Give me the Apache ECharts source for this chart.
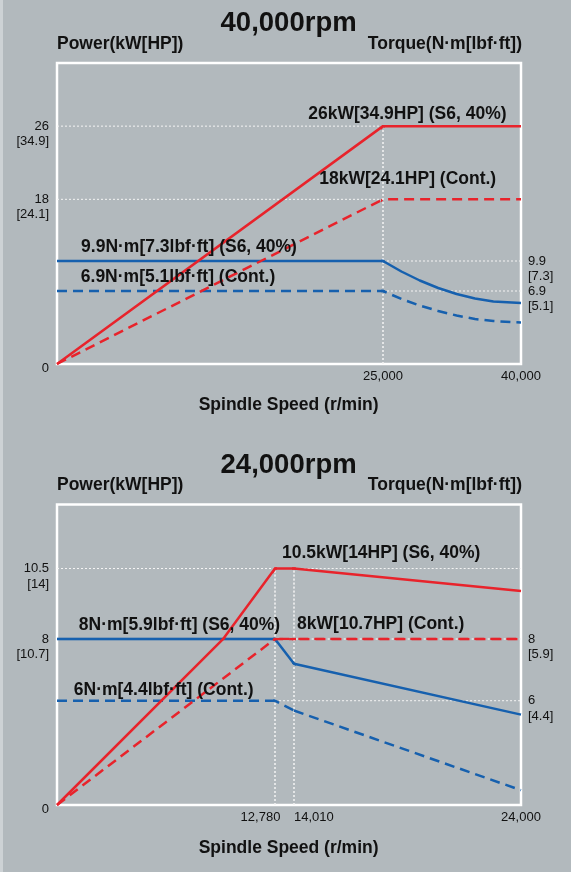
<!DOCTYPE html>
<html><head><meta charset="utf-8">
<script src="https://cdn.jsdelivr.net/npm/echarts@6/dist/echarts.min.js"></script>
<style>html,body{margin:0;padding:0;background:#b2b9bd;}#c{width:571px;height:872px;}</style>
</head><body><div id="c"></div>
<script>
// ---------------- DATA: 40,000 rpm spindle ----------------
const rpmPower40 = [0, 25000, 40000];
const s6Power40 = [0, 26, 26];
const contPower40 = [0, 18, 18];
const rpmTorque40 = [0, 25000, 27000, 29000, 31000, 33000, 35000, 37000, 40000];
const s6Torque40 = [9.9, 9.9, 8.85, 7.95, 7.2, 6.6, 6.15, 5.85, 5.7];
const contTorque40 = [6.9, 6.9, 6.1, 5.45, 4.9, 4.45, 4.1, 3.9, 3.75];
const powerTicks40 = [0, 18, 26];
const powerTicksHP40 = [null, '24.1', '34.9'];
const torqueTicks40 = [6.9, 9.9];
const torqueTicksLbf40 = ['5.1', '7.3'];
const speedTicks40 = [25000, 40000];
const refPower40 = [[26, 0, 25000], [18, 0, 25000]];      // [kW, fromRpm, toRpm]
const refTorque40 = [[9.9, 25000, 40000], [6.9, 25000, 40000]];
const refSpeed40 = [[25000, 0, 26]];                       // [rpm, fromKW, toKW]

// ---------------- DATA: 24,000 rpm spindle ----------------
const rpmS6Power24 = [0, 12780, 14010, 24000];
const s6Power24 = [0, 10.5, 10.5, 9.7];
const rpmContPower24 = [0, 12780, 24000];
const contPower24 = [0, 8, 8];
const rpmS6Torque24 = [0, 12780, 14010, 24000];
const s6Torque24 = [8, 8, 7.2, 5.55];
const rpmContTorque24 = [0, 12780, 24000];
const contTorque24 = [6, 6, 3.1];
const powerTicks24 = [0, 8, 10.5];
const powerTicksHP24 = [null, '10.7', '14'];
const torqueTicks24 = [6, 8];
const torqueTicksLbf24 = ['4.4', '5.9'];
const speedTicks24 = [12780, 14010, 24000];
const refPower24 = [[10.5, 0, 24000], [8, 0, 24000]];
const refTorque24 = [[6, 12780, 24000]];
const refSpeed24 = [[12780, 0, 10.5], [14010, 0, 10.5]];

// ---------------- STYLE ----------------
const FONT = '"Liberation Sans", Arial, Helvetica, sans-serif';
const RED = '#e8232b', BLUE = '#1660ae', DOT = '#f4f4f4', TXT = '#111111', BG = '#b2b9bd';
const DASH = [10, 6];

const grids = [], xAxes = [], yAxes = [], series = [];
const pairs = (xs, ys) => xs.map((x, i) => [x, ys[i]]);
const hidden = { axisLine: { show: false }, axisTick: { show: false }, splitLine: { show: false } };
const richBase = { fontSize: 13, fontFamily: FONT, color: TXT };

function tickFmt(ticks, sub) {
  return v => {
    const i = ticks.findIndex(t => Math.abs(t - v) < 1e-6);
    const s = i >= 0 ? sub[i] : null;
    return s ? ' \n' + v + '\n[' + s + ']' : '{z|' + v + '}';
  };
}

function build(cfg) {
  const nR = cfg.rows.length, nC = cfg.cols.length;
  const pLab = cfg.rows.map(() => []), tLab = cfg.rows.map(() => []);
  const usedP = new Set(), usedT = new Set(), usedX = new Set();
  for (let r = nR - 1; r >= 0; r--) {
    const row = cfg.rows[r];
    cfg.pTicks.forEach((v, i) => { if (!usedP.has(i) && v >= row.pmin - 1e-9 && v <= row.pmax + 1e-9) { usedP.add(i); pLab[r].push(v); } });
    cfg.tTicks.forEach((v, i) => { if (!usedT.has(i) && v >= row.tmin - 1e-9 && v <= row.tmax + 1e-9) { usedT.add(i); tLab[r].push(v); } });
  }
  const xLab = cfg.cols.map(() => []);
  cfg.cols.forEach((col, c) => cfg.xTicks.forEach((v, i) => { if (!usedX.has(i) && v > col.min && v <= col.max) { usedX.add(i); xLab[c].push(v); } }));
  const lab = Object.assign({ show: true, interval: 0, hideOverlap: false, showMinLabel: true, showMaxLabel: true }, richBase);
  cfg.rows.forEach((row, r) => cfg.cols.forEach((col, c) => {
    const g = grids.length;
    grids.push({ left: col.x0, top: row.y0, width: col.x1 - col.x0, height: row.y1 - row.y0, containLabel: false, outerBoundsMode: 'none', show: false });
    const xi = xAxes.length;
    const padR = col.labelPadRight || 0;
    xAxes.push(Object.assign({ type: 'value', gridIndex: g, min: col.min, max: col.max }, hidden, {
      axisLabel: (r === nR - 1 && xLab[c].length) ? Object.assign({}, lab, {
        customValues: xLab[c], align: col.align, margin: 6,
        formatter: v => '{s|' + Number(v).toLocaleString('en-US') + '}',
        rich: { s: Object.assign({ padding: [0, padR, 0, 0] }, richBase) }
      }) : { show: false }
    }));
    // value axes used by the series (no labels)
    const pi = yAxes.length;
    yAxes.push(Object.assign({ type: 'value', gridIndex: g, position: 'left', min: row.pmin, max: row.pmax, axisLabel: { show: false } }, hidden));
    const ti = yAxes.length;
    yAxes.push(Object.assign({ type: 'value', gridIndex: g, position: 'right', min: row.tmin, max: row.tmax, axisLabel: { show: false } }, hidden));
    // one label-only twin axis per tick label (same scale), so labels never compete
    if (c === 0) pLab[r].forEach(v => yAxes.push(Object.assign({ type: 'value', gridIndex: g, position: 'left', min: row.pmin, max: row.pmax }, hidden, {
      axisLabel: Object.assign({}, lab, { customValues: [v], align: 'right', margin: 8, lineHeight: 15.5, formatter: tickFmt(cfg.pTicks, cfg.pSub),
        rich: { z: Object.assign({ padding: [8, 0, 0, 0] }, richBase) } })
    })));
    if (c === nC - 1) tLab[r].forEach(v => yAxes.push(Object.assign({ type: 'value', gridIndex: g, position: 'right', min: row.tmin, max: row.tmax }, hidden, {
      axisLabel: Object.assign({}, lab, { customValues: [v], align: 'left', margin: 7, lineHeight: 15.5, formatter: tickFmt(cfg.tTicks, cfg.tSub),
        rich: { z: Object.assign({ padding: [8, 0, 0, 0] }, richBase) } })
    })));
    cfg.lines.forEach(L => series.push({
      type: 'line', xAxisIndex: xi, yAxisIndex: L.axis === 'power' ? pi : ti, data: L.data,
      clip: true, symbol: 'none', silent: true, animation: false, z: L.z,
      lineStyle: { color: L.color, width: L.width, type: L.dash || 'solid', cap: 'butt' }
    }));
  }));
}

function refLines(hP, hT, vS) {
  const st = { color: DOT, width: 1, dash: [2, 2], z: 2 };
  return [
    ...hP.map(([v, a, b]) => Object.assign({ axis: 'power', data: [[a, v], [b, v]] }, st)),
    ...hT.map(([v, a, b]) => Object.assign({ axis: 'torque', data: [[a, v], [b, v]] }, st)),
    ...vS.map(([x, a, b]) => Object.assign({ axis: 'power', data: [[x, a], [x, b]] }, st))
  ];
}

// Chart 1 (40,000 rpm): speed axis drawn piecewise, as in the reference drawing
build({
  cols: [
    { x0: 57, x1: 383, min: 0, max: 25000, align: 'center' },
    { x0: 383, x1: 521, min: 25000, max: 40000, align: 'center' }
  ],
  rows: [
    { y0: 63, y1: 364, pmin: 0, pmax: 32.9, tmin: -0.4, tmax: 29.7 }
  ],
  pTicks: powerTicks40, pSub: powerTicksHP40, tTicks: torqueTicks40, tSub: torqueTicksLbf40, xTicks: speedTicks40,
  lines: [
    ...refLines(refPower40, refTorque40, refSpeed40),
    { axis: 'torque', data: pairs(rpmTorque40, contTorque40), color: BLUE, width: 2.5, dash: DASH, z: 3 },
    { axis: 'torque', data: pairs(rpmTorque40, s6Torque40), color: BLUE, width: 2.5, z: 3 },
    { axis: 'power', data: pairs(rpmPower40, contPower40), color: RED, width: 2.5, dash: DASH, z: 4 },
    { axis: 'power', data: pairs(rpmPower40, s6Power40), color: RED, width: 2.5, z: 4 }
  ]
});

// Chart 2 (24,000 rpm)
build({
  cols: [
    { x0: 57, x1: 275, min: 0, max: 12780, align: 'center', labelPadRight: 29 },
    { x0: 275, x1: 294, min: 12780, max: 14010, align: 'left' },
    { x0: 294, x1: 521, min: 14010, max: 24000, align: 'center' }
  ],
  rows: [
    { y0: 504.5, y1: 639, pmin: 8, pmax: 12.77, tmin: 8, tmax: 12.36 },
    { y0: 639, y1: 805, pmin: 0, pmax: 8, tmin: 2.62, tmax: 8 }
  ],
  pTicks: powerTicks24, pSub: powerTicksHP24, tTicks: torqueTicks24, tSub: torqueTicksLbf24, xTicks: speedTicks24,
  lines: [
    ...refLines(refPower24, refTorque24, refSpeed24),
    { axis: 'torque', data: pairs(rpmContTorque24, contTorque24), color: BLUE, width: 2.5, dash: DASH, z: 3 },
    { axis: 'torque', data: pairs(rpmS6Torque24, s6Torque24), color: BLUE, width: 2.5, z: 3 },
    { axis: 'power', data: pairs(rpmContPower24, contPower24), color: RED, width: 2.5, dash: DASH, z: 4 },
    { axis: 'power', data: pairs(rpmS6Power24, s6Power24), color: RED, width: 2.5, z: 4 }
  ]
});

function txt(text, x, y, size, align, bold) {
  return { type: 'text', z: 100, silent: true, style: { text, x, y, fill: TXT, font: (bold === false ? '' : 'bold ') + size + 'px ' + FONT, align: align || 'center', verticalAlign: 'middle' } };
}
const frame = (x, y, w, h) => ({ type: 'rect', z: 1, silent: true, shape: { x, y, width: w, height: h }, style: { fill: 'none', stroke: '#ffffff', lineWidth: 2.5 } });

const LBL = 17.5;
const graphics = [
  { type: 'rect', z: 0, silent: true, shape: { x: 0, y: 0, width: 3, height: 872 }, style: { fill: '#cdd2d5' } },
  frame(57, 63, 464, 301),
  frame(57, 504.5, 464, 300.5),
  txt('40,000rpm', 288.6, 23.5, 27.5),
  txt('Power(kW[HP])', 57, 44.5, LBL, 'left'),
  txt('Torque(N·m[lbf·ft])', 522, 44.5, LBL, 'right'),
  txt('26kW[34.9HP] (S6, 40%)', 407.4, 114.5, LBL),
  txt('18kW[24.1HP] (Cont.)', 407.7, 179.5, LBL),
  txt('9.9N·m[7.3lbf·ft] (S6, 40%)', 189, 246.7, LBL),
  txt('6.9N·m[5.1lbf·ft] (Cont.)', 178, 276.7, LBL),
  txt('Spindle Speed (r/min)', 288.6, 405.5, LBL),
  txt('24,000rpm', 288.6, 465, 27.5),
  txt('Power(kW[HP])', 57, 485.5, LBL, 'left'),
  txt('Torque(N·m[lbf·ft])', 522, 485.5, LBL, 'right'),
  txt('10.5kW[14HP] (S6, 40%)', 381.2, 553, LBL),
  txt('8kW[10.7HP] (Cont.)', 380.7, 623.7, LBL),
  txt('8N·m[5.9lbf·ft] (S6, 40%)', 179.5, 625.5, LBL),
  txt('6N·m[4.4lbf·ft] (Cont.)', 163.7, 690.5, LBL),
  txt('Spindle Speed (r/min)', 288.6, 848.3, LBL)
];

const chart = echarts.init(document.getElementById('c'), null, { renderer: 'canvas', width: 571, height: 872 });
chart.setOption({
  backgroundColor: BG,
  animation: false,
  grid: grids, xAxis: xAxes, yAxis: yAxes, series: series,
  graphic: { elements: graphics }
});
</script></body></html>
